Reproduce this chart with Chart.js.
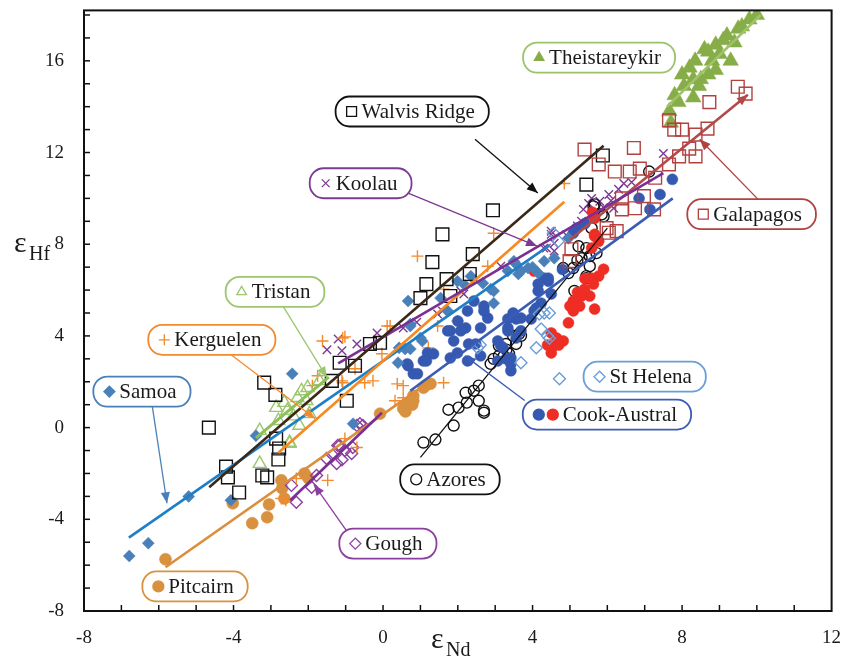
<!DOCTYPE html>
<html>
<head>
<meta charset="utf-8">
<script src="https://cdn.jsdelivr.net/npm/chart.js@4.4.1/dist/chart.umd.min.js"></script>
<style>
  body { margin: 0; background: #fff; }
  #chart { display: block; }
</style>
</head>
<body>
<canvas id="chart" width="842" height="658"></canvas>
<script>
// axis ranges (eNd on x, eHf on y)
const xRange = [-8, 12];
const yRange = [-8, 18.2];
const labelStep = 4;

// [eNd, eHf] pairs
const theistareykir = [[7.66,13.8],[7.9,14.2],[8.3,14.4],[8.0,15.4],[8.2,15.7],[8.35,16.0],[8.5,15.2],[8.7,15.4],[8.7,16.4],[8.9,16.7],[9.0,16.3],[9.2,17.1],[9.3,16.0],[9.4,16.8],[9.5,17.4],[9.8,17.8],[10.0,18.0],[8.6,16.5],[8.9,15.6],[8.8,16.0],[8.05,14.9],[7.8,14.5],[8.45,14.9],[8.3,15.2],[9.1,16.9],[9.6,17.5],[7.7,13.3]];
const walvis = [[-4.66,0],[-4.2,-1.7],[-4.15,-2.17],[-3.85,-2.83],[-3.23,-2.09],[-3.1,-2.17],[-2.86,-0.48],[-2.78,-0.91],[-2.8,-1.39],[-3.18,1.96],[-2.88,1.43],[-0.97,1.17],[-1.16,2.83],[-0.75,2.7],[-1.37,2.04],[-0.35,3.65],[-0.08,3.7],[2.94,9.48],[1.59,8.43],[1.32,7.22],[2.4,7.57],[1.16,6.26],[1.0,5.65],[1.7,6.48],[2.32,6.7],[1.8,5.74],[5.44,10.6],[5.88,11.87]];
const koolau = [[-1.2,3.87],[-1.1,3.35],[-0.7,3.65],[-0.16,4.13],[0.54,4.35],[1.46,4.96],[1.59,5.09],[2.08,5.96],[2.16,5.83],[3.15,7.04],[4.5,8.43],[4.37,7.83],[4.58,7.7],[7.5,11.96],[6.44,10.65],[6.65,10.7],[6.3,10.4],[6.04,10.17],[5.58,10.0],[5.8,9.87],[5.5,9.78],[6.17,9.57],[5.36,9.52],[5.58,9.22],[5.31,9.0],[4.5,8.57],[4.58,8.04],[4.3,7.83],[5.9,9.6],[5.7,9.4],[6.1,9.9],[5.2,8.8],[4.9,8.4],[-1.5,3.4],[0.9,4.6]];
const galapagos = [[5.39,12.13],[6.71,12.2],[5.77,11.48],[6.2,11.17],[6.6,11.17],[6.87,11.3],[7.28,10.9],[7.65,13.4],[7.79,13.0],[8.0,13.0],[8.36,12.78],[8.68,13.04],[8.73,14.2],[9.49,14.87],[9.7,14.57],[8.19,12.17],[8.36,11.83],[7.92,11.83],[7.65,11.48],[6.74,9.57],[6.39,9.52],[7.25,9.52],[6.39,10.0],[6.98,10.1],[5.98,8.7],[6.25,8.57],[5.04,7.78],[4.99,7.26],[6.04,8.5]];
const tristan = [[-3.3,-0.13],[-2.86,0.87],[-2.64,1.09],[-2.56,0.74],[-2.29,1.3],[-2.18,1.6],[-2.02,1.74],[-2.05,1.17],[-2.24,0.09],[-1.97,0.6],[-1.7,2.04],[-2.5,-0.7],[-3.3,-1.57],[-2.5,-0.65],[-2.8,0.3],[-2.4,0.5]];
const kerguelen = [[2.96,8.48],[0.92,7.48],[2.8,7.04],[1.62,6.04],[1.99,4.65],[1.46,4.43],[0.38,1.91],[0.54,1.3],[1.62,1.96],[1.21,3.48],[-1.62,3.78],[-1.08,3.91],[-1.08,1.96],[-0.49,1.96],[-0.27,2.04],[0.19,4.43],[-0.03,3.22],[-1.02,3.96],[0.11,4.43],[-0.75,2.57],[0.32,1.17],[0.54,1.83],[-1.75,2.26],[-1.89,1.83],[-1.1,2.04],[-2.72,-3.09],[-2.6,-3.17],[-2.32,-2.22],[-1.48,-2.3],[-0.7,-0.87],[-1.02,-0.48],[4.85,10.65]];
const samoa = [[-6.79,-5.6],[-6.28,-5.04],[-5.2,-3.0],[-4.07,-3.17],[-3.4,-0.35],[-0.8,0.17],[-2.43,2.35],[0.73,4.52],[0.59,3.43],[0.4,2.83],[1.05,3.78],[0.43,3.48],[0.67,5.52],[1.54,5.65],[1.99,6.39],[2.35,6.6],[2.96,5.96],[3.5,7.26],[3.69,6.83],[3.88,6.96],[3.34,6.83],[4.58,7.39],[4.96,8.26],[1.73,5.09],[2.2,6.2],[2.67,6.3],[2.88,6.04],[2.96,5.43],[3.56,7.13],[4.15,6.74],[4.31,7.26],[0.73,4.43],[1.0,3.91],[0.73,3.43],[3.62,6.7],[4.0,7.0]];
const stHelena = [[4.31,5.0],[4.23,4.3],[4.1,3.48],[3.69,2.83],[2.53,3.48],[4.45,3.9],[4.56,8.48],[4.69,8.13],[4.72,2.13],[4.18,4.96],[4.45,5.0],[4.4,4.0],[2.6,3.6]];
const cookBlue = [[1.73,4.22],[2.0,4.65],[2.26,5.09],[2.43,5.52],[2.7,5.3],[2.8,4.78],[2.61,4.35],[2.29,3.65],[1.89,3.78],[1.99,3.26],[1.19,3.26],[1.08,2.91],[0.67,2.7],[0.81,2.35],[3.07,3.78],[3.34,4.22],[3.69,4.78],[4.04,5.09],[4.15,6.26],[4.42,6.39],[4.5,5.83],[3.42,3.04],[3.07,2.91],[3.42,2.48],[3.21,3.48],[2.61,3.13],[2.21,4.35],[2.7,5.09],[2.08,4.22],[1.8,4.22],[2.48,3.65],[2.26,2.91],[1.8,3.04],[1.35,3.22],[1.16,2.91],[0.65,2.78],[0.92,2.35],[3.34,4.74],[4.15,5.96],[4.31,6.52],[4.23,5.43],[3.69,4.22],[3.56,4.74],[4.1,5.22],[3.96,4.74],[3.48,5.0],[3.34,4.35],[3.56,3.91],[3.15,3.57],[3.29,3.0],[3.42,2.78],[5.09,8.48],[7.74,10.83],[7.41,10.17],[6.85,10.0],[7.14,9.52],[5.18,8.7],[4.42,6.52],[5.4,8.9],[4.8,6.9]];
const cookRed = [[4.04,6.83],[5.9,6.91],[5.77,6.61],[5.58,6.52],[5.63,6.26],[5.39,6.04],[5.53,5.74],[5.31,5.74],[5.09,5.52],[5.26,5.3],[5.09,5.09],[5.66,5.17],[4.96,4.57],[4.5,4.13],[4.64,3.91],[4.82,3.78],[4.56,3.57],[4.5,3.26],[5.77,8.13],[5.66,8.35],[5.58,7.83],[5.66,8.43],[5.66,9.13],[5.6,9.4],[5.4,6.5],[5.2,5.9],[5.0,5.3],[4.7,3.6],[4.4,3.6]];
const azores = [[1.08,-0.65],[1.4,-0.52],[1.89,0.09],[1.75,0.78],[2.02,0.87],[2.24,1.09],[2.21,1.52],[2.43,1.61],[2.56,1.83],[2.7,0.65],[2.56,1.17],[2.88,2.78],[2.96,3.0],[3.1,3.13],[3.23,3.13],[3.37,3.22],[3.1,3.57],[3.29,3.65],[3.56,3.65],[3.48,4.0],[3.69,4.0],[3.64,4.09],[5.23,7.91],[5.44,7.83],[5.53,7.48],[5.31,7.39],[5.09,6.96],[4.82,6.96],[5.53,7.04],[5.44,6.52],[5.12,5.96],[5.58,8.7],[5.71,7.61],[5.44,6.61],[5.63,9.65],[5.85,9.3],[5.9,9.22],[5.66,9.74],[4.96,6.74],[5.2,7.3],[7.12,11.17],[2.7,0.74],[3.3,3.4]];
const gough = [[-2.32,-3.26],[-2.45,-2.52],[-1.91,-2.6],[-1.78,-2.09],[-1.51,-1.35],[-1.21,-0.78],[-1.24,-1.57],[-1.02,-1.0],[-0.84,-1.13],[-0.81,-0.87],[-0.62,0.17],[-0.54,0.09],[-0.7,0.09],[-1.16,-0.78],[-1.35,-1.2],[-1.1,-1.4]];
const pitcairn = [[-5.82,-5.74],[-4.02,-3.3],[-3.5,-4.17],[-3.1,-3.91],[-3.05,-3.35],[-2.72,-2.3],[-2.7,-2.65],[-2.64,-3.09],[-2.1,-2.0],[-2.0,-2.2],[-0.08,0.61],[0.54,0.83],[0.78,1.0],[0.81,1.17],[1.27,1.91],[1.08,1.74],[0.81,1.39],[0.65,1.04],[1.13,1.83],[0.6,0.7]];

// regression line end points [eNd, eHf]
const theistareykirFit = [[7.6,14.0],[10.1,18.0]];
const walvisFit = [[-4.65,-2.6],[5.9,12.3]];
const koolauFit = [[-1.2,2.8],[7.5,11.1]];
const galapagosFit = [[5.0,8.2],[9.76,14.52]];
const tristanFit = [[-3.4,-0.45],[-1.45,2.2]];
const kerguelenFit = [[-2.8,-1.1],[4.85,9.85]];
const samoaFit = [[-6.8,-4.8],[4.45,7.95]];
const cookFit = [[0.73,1.61],[7.75,10.0]];
const azoresFit = [[1.0,-1.3],[6.0,8.7]];
const goughFit = [[-2.48,-3.17],[-0.03,0.65]];
const pitcairnFit = [[-5.82,-6.09],[1.27,2.04]];

const toXY = arr => arr.map(p => ({ x: p[0], y: p[1] }));
const serif = '"Liberation Serif", "DejaVu Serif", serif';

function pts(data, style, color, radius, filled) {
    return {
        type: 'scatter', data: toXY(data), pointStyle: style, pointRadius: radius,
        borderColor: color, backgroundColor: filled ? color : 'rgba(0,0,0,0)',
        pointBorderWidth: filled ? 0.5 : 1.4, order: 2
    };
}

function fit(data, color, width) {
    return {
        type: 'scatter', data: toXY(data), showLine: true, pointRadius: 0,
        borderColor: color, borderWidth: width || 2.6, order: 1
    };
}

const datasets = [
    pts(galapagos, 'rect', '#b2413f', 9, false),
    pts(walvis, 'rect', '#111', 9, false),
    pts(stHelena, 'rectRot', '#6a9ed8', 6, false),
    pts(samoa, 'rectRot', '#4a80b9', 6, true),
    pts(cookBlue, 'circle', '#3559b0', 5.5, true),
    pts(cookRed, 'circle', '#ee2d24', 5.5, true),
    pts(azores, 'circle', '#111', 5.5, false),
    pts(tristan, 'triangle', '#9cc66f', 7.5, false),
    pts(theistareykir, 'triangle', '#86ad48', 9, true),
    pts(kerguelen, 'cross', '#f28a2e', 6, false),
    pts(koolau, 'crossRot', '#7c3a93', 6, false),
    pts(gough, 'rectRot', '#8b3f9e', 6, false),
    pts(pitcairn, 'circle', '#d8913f', 6, true),
    fit(theistareykirFit, '#9fc26a'),
    fit(walvisFit, '#3a2818'),
    fit(koolauFit, '#7c2f92'),
    fit(galapagosFit, '#b24a4a'),
    fit(tristanFit, '#8fbf5c', 3),
    fit(kerguelenFit, '#f6891f'),
    fit(samoaFit, '#1f7fc6'),
    fit(cookFit, '#3a5cb5'),
    fit(azoresFit, '#111', 1.3),
    fit(goughFit, '#7b2f92'),
    fit(pitcairnFit, '#dc8e3c')
];

// callout boxes: centre and arrow given in data units
const callouts = [
    { text: 'Theistareykir', color: '#9cc26a', at: [5.78, 16.14], marks: [['triangle', '#86ad48', true]] },
    { text: 'Walvis Ridge', color: '#111', at: [0.78, 13.79], marks: [['rect', '#111', false]], arrow: [[2.46, 12.58], [4.14, 10.23]] },
    { text: 'Koolau', color: '#7c3a93', at: [-0.6, 10.66], marks: [['crossRot', '#7c3a93', false]], arrow: [[0.67, 10.23], [4.12, 7.92]] },
    { text: 'Galapagos', color: '#b2413f', at: [9.86, 9.31], marks: [['rect', '#b2413f', false]], arrow: [[10.08, 9.88], [8.47, 12.58]] },
    { text: 'Tristan', color: '#9cc66f', at: [-2.89, 5.92], marks: [['triangle', '#9cc66f', false]], arrow: [[-2.68, 5.31], [-1.5, 2.18]] },
    { text: 'Kerguelen', color: '#f28a2e', at: [-4.58, 3.83], marks: [['cross', '#f28a2e', false]], arrow: [[-4.1, 3.22], [-1.82, 0.4]] },
    { text: 'Samoa', color: '#4a80b9', at: [-6.45, 1.57], marks: [['rectRot', '#4a80b9', true]], arrow: [[-6.18, 1.0], [-5.78, -3.3]] },
    { text: 'St Helena', color: '#6a9ed8', at: [7.0, 2.22], marks: [['rectRot', '#6a9ed8', false]] },
    { text: 'Cook-Austral', color: '#3a5cb5', at: [5.99, 0.57], marks: [['circle', '#3559b0', true], ['circle', '#ee2d24', true]], arrow: [[3.79, 1.18], [2.19, 3.13]] },
    { text: 'Azores', color: '#111', at: [1.79, -2.26], marks: [['circle', '#111', false]] },
    { text: 'Gough', color: '#8b3f9e', at: [0.13, -5.06], marks: [['rectRot', '#8b3f9e', false]], arrow: [[-0.89, -4.7], [-1.85, -2.48]] },
    { text: 'Pitcairn', color: '#d8913f', at: [-5.03, -6.93], marks: [['circle', '#d8913f', true]] }
];

function arrowHead(ctx, x1, y1, x2, y2, color) {
    const a = Math.atan2(y2 - y1, x2 - x1);
    const len = 11, half = 4.5;
    ctx.fillStyle = color;
    ctx.beginPath();
    ctx.moveTo(x2, y2);
    ctx.lineTo(x2 - len * Math.cos(a) + half * Math.sin(a), y2 - len * Math.sin(a) - half * Math.cos(a));
    ctx.lineTo(x2 - len * Math.cos(a) - half * Math.sin(a), y2 - len * Math.sin(a) + half * Math.cos(a));
    ctx.closePath();
    ctx.fill();
}

const decorPlugin = {
    id: 'decor',
    afterDatasetsDraw(chart) {
        const ctx = chart.ctx;
        const xs = chart.scales.x, ys = chart.scales.y;
        const area = chart.chartArea;
        ctx.save();

        // arrow on the Galapagos trend line
        const g0 = galapagosFit[0], g1 = galapagosFit[1];
        arrowHead(ctx, xs.getPixelForValue(g0[0]), ys.getPixelForValue(g0[1]),
            xs.getPixelForValue(g1[0]), ys.getPixelForValue(g1[1]), '#b24a4a');

        // callouts
        callouts.forEach(c => {
            if (c.arrow) {
                const ax = xs.getPixelForValue(c.arrow[0][0]), ay = ys.getPixelForValue(c.arrow[0][1]);
                const bx = xs.getPixelForValue(c.arrow[1][0]), by = ys.getPixelForValue(c.arrow[1][1]);
                ctx.strokeStyle = c.color;
                ctx.lineWidth = 1.3;
                ctx.beginPath();
                ctx.moveTo(ax, ay);
                ctx.lineTo(bx, by);
                ctx.stroke();
                arrowHead(ctx, ax, ay, bx, by, c.color);
            }
        });
        callouts.forEach(c => {
            ctx.font = '21px ' + serif;
            const tw = ctx.measureText(c.text).width;
            const markW = c.marks.length * 14;
            const w = tw + markW + 26, h = 30;
            const cx = xs.getPixelForValue(c.at[0]), cy = ys.getPixelForValue(c.at[1]);
            const left = cx - w / 2, top = cy - h / 2;
            ctx.fillStyle = '#fff';
            ctx.strokeStyle = c.color;
            ctx.lineWidth = 1.8;
            ctx.beginPath();
            ctx.roundRect(left, top, w, h, 14);
            ctx.fill();
            ctx.stroke();
            c.marks.forEach((m, i) => {
                ctx.fillStyle = m[2] ? m[1] : 'rgba(0,0,0,0)';
                ctx.strokeStyle = m[1];
                ctx.lineWidth = 1.3;
                Chart.helpers.drawPoint(ctx, { pointStyle: m[0], radius: m[0] === 'rect' ? 7 : 5.5, rotation: 0, borderWidth: 1.3 },
                    left + 16 + i * 14, cy);
            });
            ctx.fillStyle = '#1a1a1a';
            ctx.font = '21px ' + serif;
            ctx.textBaseline = 'middle';
            ctx.textAlign = 'left';
            ctx.fillText(c.text, left + 12 + markW, cy + 1);
        });

        // inward tick marks
        ctx.strokeStyle = '#111';
        ctx.lineWidth = 1.5;
        for (let v = Math.ceil(xRange[0]) + 1; v < xRange[1]; v++) {
            const px = xs.getPixelForValue(v);
            ctx.beginPath();
            ctx.moveTo(px, area.bottom);
            ctx.lineTo(px, area.bottom - 6);
            ctx.stroke();
        }
        for (let v = Math.ceil(yRange[0]) + 1; v < yRange[1]; v++) {
            const py = ys.getPixelForValue(v);
            ctx.beginPath();
            ctx.moveTo(area.left, py);
            ctx.lineTo(area.left + 6, py);
            ctx.stroke();
        }

        // frame
        ctx.lineWidth = 2;
        ctx.strokeRect(area.left, area.top, area.right - area.left, area.bottom - area.top);

        // axis titles: epsilon with subscript
        ctx.fillStyle = '#1a1a1a';
        ctx.textBaseline = 'alphabetic';
        ctx.textAlign = 'left';
        ctx.font = '30px ' + serif;
        ctx.fillText('ε', 14, 252);
        ctx.fillText('ε', 431, 648);
        ctx.font = '20px ' + serif;
        ctx.fillText('Hf', 29, 260);
        ctx.fillText('Nd', 446, 656);
        ctx.restore();
    }
};

const tickFont = { family: serif, size: 19 };
const tickLabel = v => (Number.isInteger(v) && v % labelStep === 0 ? String(v) : null);

new Chart(document.getElementById('chart'), {
    type: 'scatter',
    data: { datasets },
    options: {
        responsive: false,
        animation: false,
        layout: { padding: { top: 9, right: 9, left: 0, bottom: 0 } },
        plugins: { legend: { display: false }, tooltip: { enabled: false } },
        scales: {
            x: {
                type: 'linear', min: xRange[0], max: xRange[1],
                grid: { display: false }, border: { display: false },
                ticks: {
                    stepSize: 1, autoSkip: false, maxRotation: 0, padding: 8,
                    color: '#1a1a1a', font: tickFont, callback: tickLabel
                },
                afterFit: s => { s.height = 47; s.paddingLeft = 0; s.paddingRight = 0; }
            },
            y: {
                type: 'linear', min: yRange[0], max: yRange[1],
                grid: { display: false }, border: { display: false },
                ticks: {
                    stepSize: 1, autoSkip: false, padding: 12,
                    color: '#1a1a1a', font: tickFont, callback: tickLabel
                },
                afterFit: s => { s.width = 84; s.paddingTop = 0; s.paddingBottom = 0; }
            }
        }
    },
    plugins: [decorPlugin]
});
</script>
</body>
</html>
